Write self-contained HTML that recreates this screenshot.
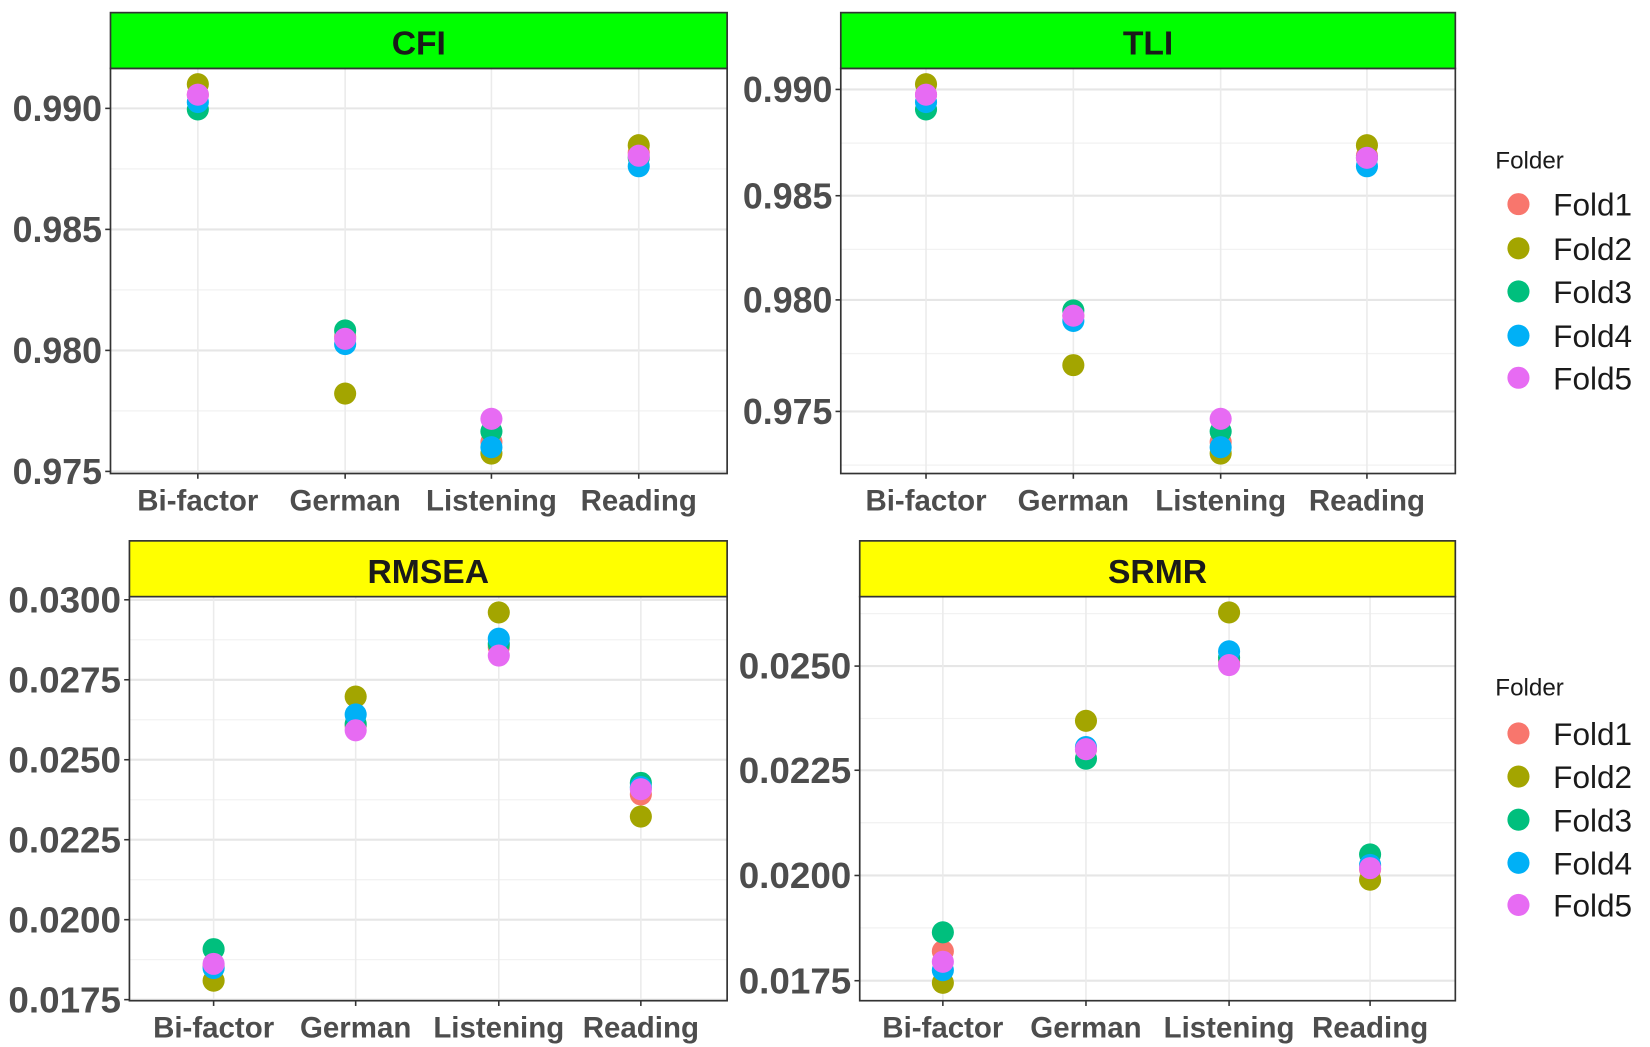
<!DOCTYPE html>
<html><head><meta charset="utf-8"><style>
html,body{margin:0;padding:0;background:#fff;}
svg{display:block;}
</style></head><body>
<svg id="s" width="1650" height="1047" viewBox="0 0 1568 995" preserveAspectRatio="none" xmlns="http://www.w3.org/2000/svg" font-family="Liberation Sans, Arial, sans-serif"></svg>
<script>
const C=['#F8766D','#A3A500','#00BF7D','#00B0F6','#E76BF3'];
const cats=['Bi-factor','German','Listening','Reading'];
const panels=[
 {t:'CFI',fill:'#00FF00',x0:105,x1:691,sy:12,py:65,pb:450,cx:[188,328,467,607],
  ticks:[['0.990',103],['0.985',218],['0.980',333],['0.975',448]],lx:97,
  pts:[[90,80,104,97,90],[320,374,314,327,322],[420,431,410,425,398],[145,138,150,158,148]]},
 {t:'TLI',fill:'#00FF00',x0:799,x1:1383,sy:12,py:65,pb:450,cx:[880,1020,1160,1299],
  ticks:[['0.990',85],['0.985',186],['0.980',285],['0.975',391]],lx:791,
  pts:[[90,80,104,97,90],[300,347,295,305,300],[420,431,410,425,398],[148,138,150,158,150]]},
 {t:'RMSEA',fill:'#FFFF00',x0:123,x1:691,sy:514,py:567,pb:951,cx:[203,338,474,609],
  ticks:[['0.0300',570],['0.0275',646],['0.0250',722],['0.0225',798],['0.0200',874],['0.0175',950]],lx:115,
  pts:[[918,932,902,920,916],[690,662,688,679,694],[615,582,612,607,623],[755,776,744,748,750]]},
 {t:'SRMR',fill:'#FFFF00',x0:817,x1:1383,sy:514,py:567,pb:951,cx:[896,1032,1168,1302],
  ticks:[['0.0250',633],['0.0225',732],['0.0200',832],['0.0175',932]],lx:809,
  pts:[[904,934,886,922,914],[712,685,721,710,712],[628,582,625,619,632],[826,836,812,822,825]]}
];
let h='';
for(const p of panels){
  const tk=p.ticks;
  const step=(tk[tk.length-1][1]-tk[0][1])/(tk.length-1);
  let minors=[];
  for(let y=tk[0][1]-step/2;y>p.py;y-=step)minors.push(y);
  for(let i=0;i<tk.length;i++)minors.push(tk[i][1]+step/2);
  for(const y of minors) if(y>p.py&&y<p.pb) h+=`<line x1="${p.x0}" x2="${p.x1}" y1="${y}" y2="${y}" stroke="#f2f2f2" stroke-width="1.2"/>`;
  for(const [l,y] of tk) h+=`<line x1="${p.x0}" x2="${p.x1}" y1="${y}" y2="${y}" stroke="#e6e6e6" stroke-width="2"/>`;
  for(const x of p.cx) h+=`<line x1="${x}" x2="${x}" y1="${p.py}" y2="${p.pb}" stroke="#ebebeb" stroke-width="1.5"/>`;
  p.pts.forEach((arr,ci)=>{arr.forEach((y,fi)=>{h+=`<circle cx="${p.cx[ci]}" cy="${y}" r="10.5" fill="${C[fi]}"/>`;});});
  h+=`<rect x="${p.x0}" y="${p.py}" width="${p.x1-p.x0}" height="${p.pb-p.py}" fill="none" stroke="#333" stroke-width="1.6"/>`;
  h+=`<rect x="${p.x0}" y="${p.sy}" width="${p.x1-p.x0}" height="${p.py-p.sy}" fill="${p.fill}" stroke="#333" stroke-width="1.6"/>`;
  h+=`<text x="${(p.x0+p.x1)/2}" y="${p.sy+40}" text-anchor="middle" font-weight="bold" font-size="32" fill="#1a1a1a">${p.t}</text>`;
  for(const [l,y] of tk){
    const w=l.length==5?85:107;
    h+=`<line x1="${p.x0-5}" x2="${p.x0}" y1="${y}" y2="${y}" stroke="#333" stroke-width="1.5"/>`;
    h+=`<text x="${p.lx-w}" y="${y+12}" textLength="${w}" lengthAdjust="spacingAndGlyphs" font-weight="bold" font-size="34" fill="#4d4d4d">${l}</text>`;
  }
  p.cx.forEach((x,i)=>{
    h+=`<line x1="${x}" x2="${x}" y1="${p.pb}" y2="${p.pb+5}" stroke="#333" stroke-width="1.5"/>`;
    h+=`<text x="${x}" y="${p.pb+35}" text-anchor="middle" font-weight="bold" font-size="28" fill="#4d4d4d">${cats[i]}</text>`;
  });
}
for(const [fy,dys] of [[152,[194,236,277,319,359]],[653,[697,738,779,820,860]]]){
  h+=`<text x="1421" y="${fy+8}" font-size="23" fill="#1a1a1a">Folder</text>`;
  dys.forEach((y,i)=>{
    h+=`<circle cx="1443" cy="${y}" r="10.5" fill="${C[i]}"/>`;
    h+=`<text x="1476" y="${y+11}" font-size="30" fill="#1a1a1a">Fold${i+1}</text>`;
  });
}
document.getElementById('s').innerHTML=h;
</script>
</body></html>
